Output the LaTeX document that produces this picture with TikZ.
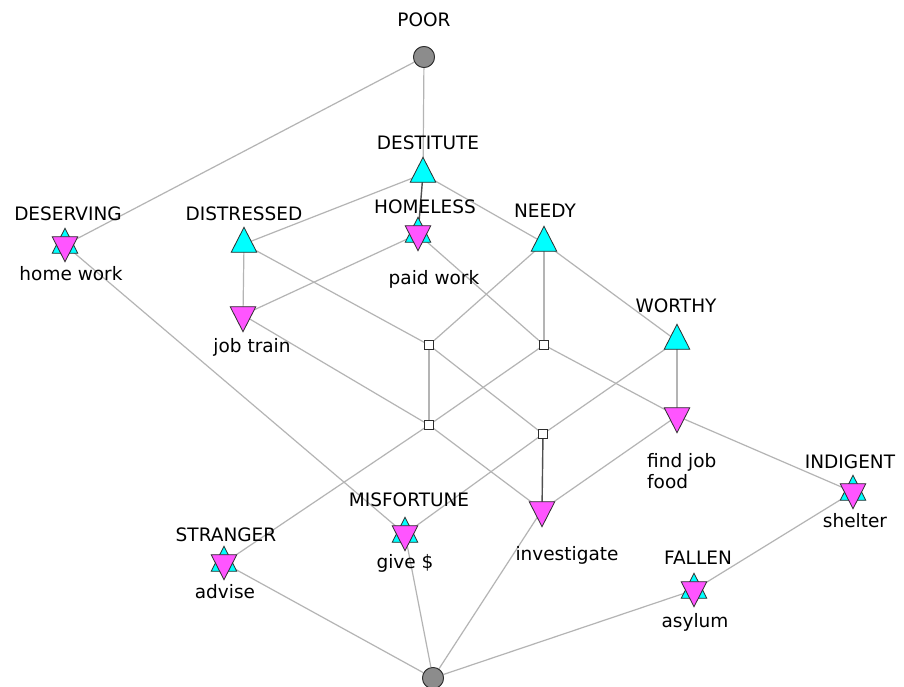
\documentclass[tikz,border=0pt]{standalone}
\usepackage{fontspec}
\setmainfont{DejaVu Sans}
\usetikzlibrary{calc}

\definecolor{edgegrey}{RGB}{180,180,180}
\definecolor{darkedge}{RGB}{80,80,80}
\definecolor{extcyan}{RGB}{0,255,255}
\definecolor{intmag}{RGB}{255,85,255}
\definecolor{extremgrey}{RGB}{140,140,140}
\definecolor{outline}{RGB}{45,45,45}

% triangle markers around a named centroid
\newcommand\uptri[1]{%
  \filldraw[fill=extcyan, draw=outline, line width=0.8pt]
    ($(#1)+(0,-16.7)$) -- ($(#1)+(12.8,8.3)$) -- ($(#1)+(-12.8,8.3)$) -- cycle;}
\newcommand\downtri[1]{%
  \filldraw[fill=intmag, draw=outline, line width=0.8pt]
    ($(#1)+(0,16.7)$) -- ($(#1)+(12.8,-8.3)$) -- ($(#1)+(-12.8,-8.3)$) -- cycle;}
\newcommand\startri[1]{\uptri{#1}\downtri{#1}}

\begin{document}
\begin{tikzpicture}[x=1pt, y=-1pt,
  edge/.style={draw=edgegrey, line width=1.2pt},
  darkline/.style={draw=darkedge, line width=1.4pt},
  endcirc/.style={circle, draw=outline, fill=extremgrey, line width=0.8pt,
                  minimum size=21pt, inner sep=0pt},
  meetsq/.style={rectangle, draw=outline, fill=white, line width=0.8pt,
                 minimum size=9pt, inner sep=0pt},
  lbl/.style={anchor=base, inner sep=0pt, text=black,
              font=\fontsize{18.5}{22}\selectfont},
  lblw/.style={lbl, anchor=base west}]

\useasboundingbox (0,0) rectangle (904,687);
\fill[white] (0,0) rectangle (904,687);

% top and bottom elements, unlabelled meet points
\node[endcirc] (poor) at (424,57) {};
\node[endcirc] (bottom) at (433,678) {};
\node[meetsq] (m1) at (429,345) {};
\node[meetsq] (m2) at (544,345) {};
\node[meetsq] (m3) at (429,425) {};
\node[meetsq] (m4) at (543,434) {};

% concept centres
\coordinate (destitute) at (423,174);
\coordinate (deserving) at (65,245);
\coordinate (distressed) at (244,244);
\coordinate (homeless) at (418,234);
\coordinate (needy) at (544,243);
\coordinate (worthy) at (677,341);
\coordinate (jobtrain) at (243,315);
\coordinate (findjob) at (677,416);
\coordinate (indigent) at (853,492);
\coordinate (misfortune) at (405,534);
\coordinate (investigate) at (542,510);
\coordinate (stranger) at (224,563);
\coordinate (fallen) at (694,590);

% lattice edges
\draw[edge] (poor) -- (deserving);
\draw[edge] (poor) -- (destitute);
\draw[edge] (destitute) -- (distressed);
\draw[darkline] (destitute) -- (homeless);
\draw[edge] (destitute) -- (needy);
\draw[edge] (needy) -- (worthy);
\draw[edge] (deserving) -- (misfortune);
\draw[edge] (distressed) -- (jobtrain);
\draw[edge] (distressed) -- (m1);
\draw[edge] (homeless) -- (jobtrain);
\draw[edge] (homeless) -- (m2);
\draw[edge] (needy) -- (m1);
\draw[edge] (needy) -- (m2);
\draw[edge] (worthy) -- (findjob);
\draw[edge] (worthy) -- (m4);
\draw[edge] (m2) -- (findjob);
\draw[edge] (jobtrain) -- (m3);
\draw[edge] (m1) -- (m3);
\draw[edge] (m1) -- (m4);
\draw[edge] (m2) -- (m3);
\draw[edge] (m3) -- (stranger);
\draw[edge] (m3) -- (investigate);
\draw[edge] (m4) -- (misfortune);
\draw[darkline] (m4) -- (investigate);
\draw[edge] (findjob) -- (indigent);
\draw[edge] (findjob) -- (investigate);
\draw[edge] (indigent) -- (fallen);
\draw[edge] (stranger) -- (bottom);
\draw[edge] (misfortune) -- (bottom);
\draw[edge] (investigate) -- (bottom);
\draw[edge] (fallen) -- (bottom);

% redraw the circles and squares above the edges
\node[endcirc] at (poor) {};
\node[endcirc] at (bottom) {};
\node[meetsq] at (m1) {};
\node[meetsq] at (m2) {};
\node[meetsq] at (m3) {};
\node[meetsq] at (m4) {};

% concept markers
\uptri{destitute}
\uptri{distressed}
\uptri{needy}
\uptri{worthy}
\downtri{jobtrain}
\downtri{findjob}
\downtri{investigate}
\startri{deserving}
\startri{homeless}
\startri{indigent}
\startri{misfortune}
\startri{stranger}
\startri{fallen}

% attribute labels
\node[lbl] (lpoor) at (424,27) {POOR};
\node[lbl] (ldestitute) at (428,150) {DESTITUTE};
\node[lbl] (ldeserving) at (68,220) {DESERVING};
\node[lbl] (ldistressed) at (244,220) {DISTRESSED};
\node[lbl] (lhomeless) at (425,213) {HOMELESS};
\node[lbl] (lneedy) at (545,217) {NEEDY};
\node[lbl] (lworthy) at (676,312) {WORTHY};
\node[lbl] (lindigent) at (850,468) {INDIGENT};
\node[lbl] (lmisfortune) at (409,506) {MISFORTUNE};
\node[lbl] (lstranger) at (226,541) {STRANGER};
\node[lbl] (lfallen) at (698,564) {FALLEN};

% object labels
\node[lbl] (ohomework) at (71,280) {home work};
\node[lbl] (opaidwork) at (434,284) {paid work};
\node[lbl] (ojobtrain) at (252,352) {job train};
\node[lblw] (ofindjob) at (647,467) {find job};
\node[lblw] (ofood) at (647,488) {food};
\node[lbl] (oshelter) at (855,527) {shelter};
\node[lbl] (ogive) at (405,568) {give \$};
\node[lbl] (oinvestigate) at (567,560) {investigate};
\node[lbl] (oadvise) at (225,598) {advise};
\node[lbl] (oasylum) at (695,627) {asylum};
\end{tikzpicture}
\end{document}
